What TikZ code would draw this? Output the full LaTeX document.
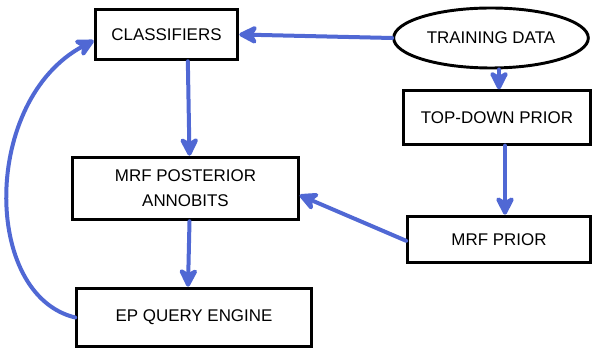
\documentclass[tikz,border=0pt]{standalone}
\usepackage{fontspec}
\setmainfont{Liberation Sans}
\usetikzlibrary{arrows.meta, positioning, shapes.geometric}
\definecolor{penblue}{RGB}{80,104,212}

\tikzset{
  blockbox/.style={draw, line width=2.2pt, inner sep=0pt, font=\fontsize{12.7}{18.75}\selectfont},
  dataoval/.style={ellipse, draw, line width=2.2pt, inner sep=0pt, font=\fontsize{12.7}{18.75}\selectfont},
  penarrow/.style={draw=penblue, line width=3pt, line cap=round, -{Stealth[length=17pt,width=17pt,inset=5pt,round]}},
}

\begin{document}
\begin{tikzpicture}[x=0.75pt,y=0.75pt,yscale=-1,xscale=1]
\useasboundingbox (0,0) rectangle (594,349);

% Boxes
\node[blockbox, minimum width=107pt, minimum height=38pt] (cls) at (166.5,34.5) {CLASSIFIERS};
\node[dataoval, minimum width=146pt, minimum height=45pt] (train) at (491,38) {TRAINING DATA};
\node[blockbox, minimum width=140pt, minimum height=40pt] (top) at (497,117.5) {TOP-DOWN PRIOR};
\node[blockbox, minimum width=169pt, minimum height=47pt, align=center] (post) at (185.5,188.5) {MRF POSTERIOR\\ANNOBITS};
\node[blockbox, minimum width=137pt, minimum height=35pt] (prior) at (499,239.5) {MRF PRIOR};
\node[blockbox, minimum width=176pt, minimum height=44pt] (ep) at (194,317.5) {EP QUERY ENGINE};

% Arrows
\draw[penarrow] (train.west) -- (cls.east);
\draw[penarrow] ([xshift=16pt]cls.south) -- ([xshift=3pt]post.north);
\draw[penarrow] ([xshift=3pt]post.south) -- ([xshift=-4.5pt]ep.north);
\draw[penarrow] ([xshift=6pt]train.south) -- ([xshift=1.5pt]top.north);
\draw[penarrow] ([xshift=6pt]top.south) -- ([xshift=4.5pt]prior.north);
\draw[penarrow] ([yshift=1pt]prior.west) -- ([yshift=5pt]post.east);
\draw[penarrow] (ep.west) .. controls (-18,295) and (-18,100) .. ([yshift=4.5pt]cls.west);

\end{tikzpicture}
\end{document}
